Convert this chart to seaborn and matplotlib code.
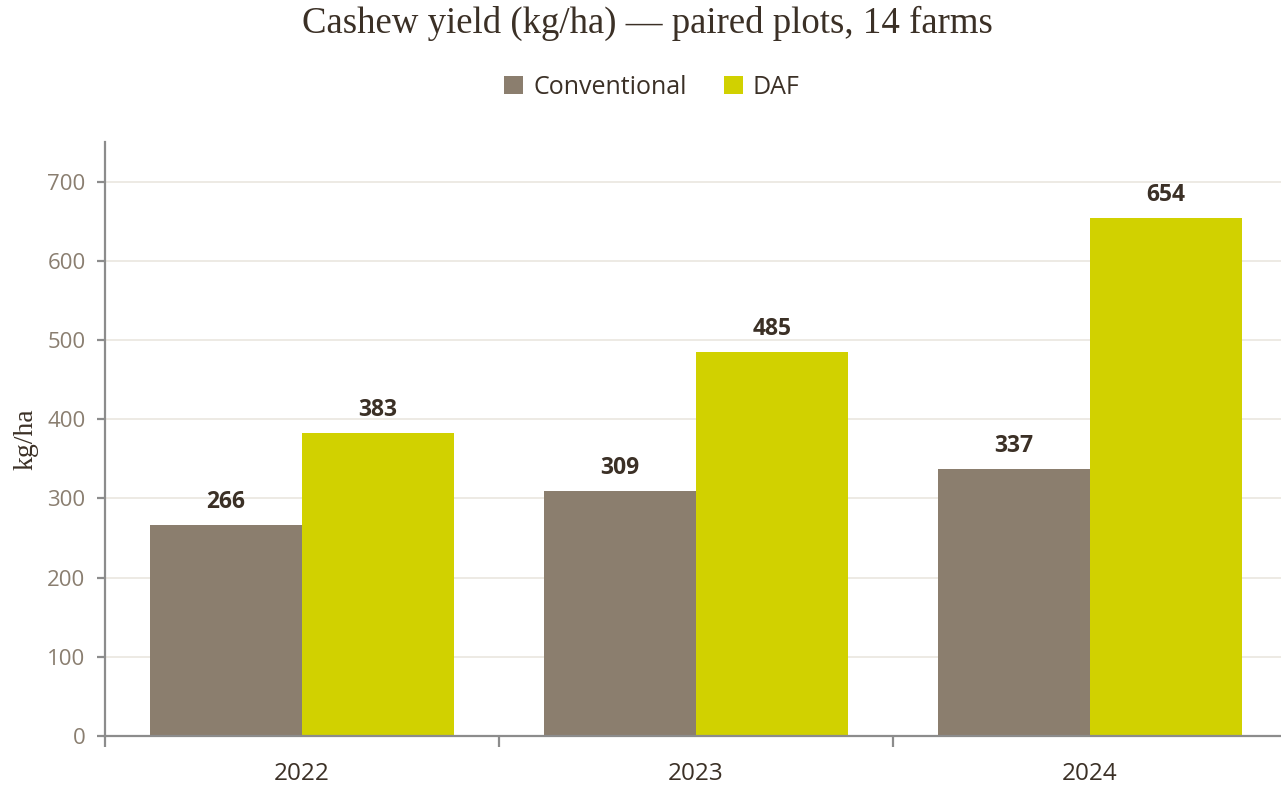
import matplotlib
matplotlib.use("Agg")
import matplotlib.pyplot as plt
import seaborn as sns
import pandas as pd
from matplotlib.patches import Patch

years = ["2022", "2023", "2024"]
conventional = [266, 309, 337]
daf = [383, 485, 654]
series_names = ["Conventional", "DAF"]
colors = ["#8b7e6e", "#d1d100"]

df = pd.DataFrame({
    "year": years * 2,
    "system": [series_names[0]] * 3 + [series_names[1]] * 3,
    "value": conventional + daf,
})

sns.set_theme(style="white")
plt.rcParams["font.family"] = ["Open Sans", "DejaVu Sans"]

fig = plt.figure(figsize=(12.81, 7.88), dpi=100)
ax = fig.add_axes([105/1281, 52/788, 1182/1281, 594/788])

sns.barplot(data=df, x="year", y="value", hue="system", palette=colors,
            width=0.77, ax=ax, saturation=1, legend=False,
            edgecolor="none", linewidth=0)

for c in ax.containers:
    ax.bar_label(c, fmt="%d", padding=8, fontsize=16.5, fontweight="bold",
                 color="#3b3026")

ax.set_ylim(0, 750)
ax.set_xlim(-0.5, 2.5)
ax.set_yticks(range(0, 701, 100))
ax.yaxis.grid(True, color="#e8e4dc", linewidth=1.1)
ax.xaxis.grid(False)
ax.set_axisbelow(True)

for s in ["top", "right"]:
    ax.spines[s].set_visible(False)
for s in ["left", "bottom"]:
    ax.spines[s].set_color("#8c8c8c")
    ax.spines[s].set_linewidth(1.6)

# category boundary ticks (major, unlabeled) and centered labels (minor)
ax.set_xticks([-0.5, 0.5, 1.5, 2.5], labels=["", "", "", ""])
ax.set_xticks([0, 1, 2], labels=years, minor=True)

ax.tick_params(axis="y", which="major", length=6, width=1.6, color="#8c8c8c",
               labelsize=16, labelcolor="#8a7e70", pad=8, left=True)
ax.tick_params(axis="x", which="major", length=8, width=1.6, color="#8c8c8c",
               bottom=True, direction="out")
ax.tick_params(axis="x", which="minor", length=0, labelsize=17.5,
               labelcolor="#3b3026", pad=19, bottom=True)

ax.set_xlabel("")
ax.set_ylabel("kg/ha", fontsize=20, family=["Liberation Serif", "DejaVu Serif"],
              color="#3b3026", labelpad=6)

fig.suptitle("Cashew yield (kg/ha) \u2014 paired plots, 14 farms",
             x=647/1281, y=1 - 23/788, va="center",
             fontsize=26.5, family=["Liberation Serif", "DejaVu Serif"],
             color="#3b3026")

handles = [Patch(facecolor=colors[i], edgecolor="none", label=series_names[i])
           for i in range(2)]
fig.legend(handles=handles, loc="center", bbox_to_anchor=(652/1281, 1 - 87/788),
           ncol=2, frameon=False, fontsize=18, handlelength=0.75, handleheight=0.75,
           handletextpad=0.4, columnspacing=1.5, labelcolor="#3b3026")

fig.savefig("out.png", dpi=100)
